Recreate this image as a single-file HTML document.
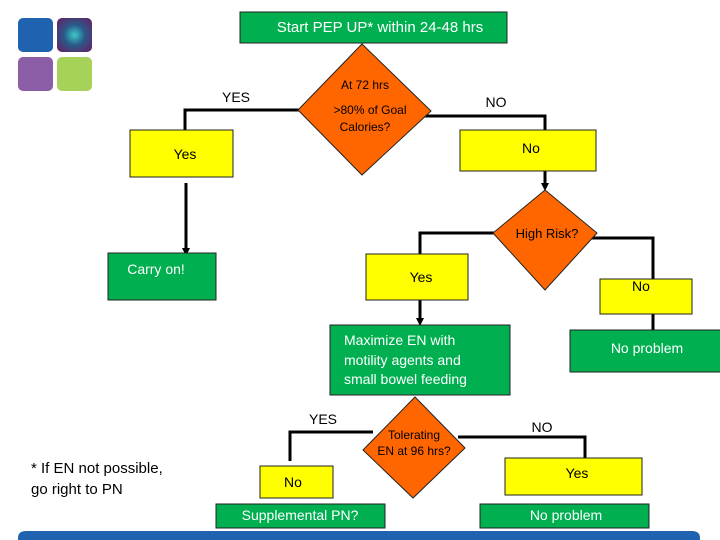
<!DOCTYPE html>
<html><head><meta charset="utf-8"><style>
html,body{margin:0;padding:0;background:#fff;width:720px;height:540px;overflow:hidden}
svg{display:block}
text{font-family:"Liberation Sans",sans-serif}
</style></head><body>
<svg width="720" height="540" viewBox="0 0 720 540" xmlns="http://www.w3.org/2000/svg">
<defs>
<marker id="ar" markerWidth="8" markerHeight="8" refX="4" refY="4" orient="auto" markerUnits="userSpaceOnUse"><path d="M0,0 L8,4 L0,8 z" fill="#000"/></marker>
<radialGradient id="g1" cx="50%" cy="50%" r="60%"><stop offset="0" stop-color="#3cc8c8"/><stop offset="0.5" stop-color="#2a5a8a"/><stop offset="1" stop-color="#5a2a6a"/></radialGradient>
</defs>
<!-- logo -->
<rect x="18" y="18" width="35" height="34" rx="5" fill="#1f63b0"/>
<rect x="57" y="18" width="35" height="34" rx="5" fill="url(#g1)"/>
<rect x="18" y="57" width="35" height="34" rx="5" fill="#8d5ea8"/>
<rect x="57" y="57" width="35" height="34" rx="5" fill="#a6d25a"/>

<g stroke="#000" stroke-width="3" fill="none">
<polyline points="300,110 185,110 185,130"/>
<polyline points="422,116 545,116 545,130"/>
<line x1="186" y1="183" x2="186" y2="252" marker-end="url(#ar)"/>
<line x1="545" y1="171" x2="545" y2="187" marker-end="url(#ar)"/>
<polyline points="496,233 420,233 420,254"/>
<polyline points="590,238 653,238 653,279"/>
<line x1="420" y1="300" x2="420" y2="322" marker-end="url(#ar)"/>
<line x1="653" y1="314" x2="653" y2="330"/>
<polyline points="373,432 290,432 290,461"/>
<polyline points="458,437 585,437 585,458"/>
</g>

<g stroke="#222" stroke-width="1">
<rect x="240" y="12" width="267" height="31" fill="#00b050"/>
<polygon points="362,44 431,111 362,175 298,110" fill="#ff6600"/>
<rect x="130" y="130" width="103" height="47" fill="#ffff00"/>
<rect x="460" y="130" width="136" height="41" fill="#ffff00"/>
<polygon points="545,190 597,233 545,290 493,233" fill="#ff6600"/>
<rect x="108" y="253" width="108" height="47" fill="#00b050"/>
<rect x="366" y="254" width="102" height="46" fill="#ffff00"/>
<rect x="600" y="279" width="92" height="35" fill="#ffff00"/>
<rect x="330" y="325" width="180" height="70" fill="#00b050"/>
<rect x="570" y="330" width="152" height="42" fill="#00b050"/>
<polygon points="415,397 465,448 413,498 363,450" fill="#ff6600"/>
<rect x="260" y="466" width="73" height="32" fill="#ffff00"/>
<rect x="216" y="504" width="169" height="24" fill="#00b050"/>
<rect x="505" y="458" width="137" height="37" fill="#ffff00"/>
<rect x="480" y="504" width="169" height="24" fill="#00b050"/>
</g>

<path d="M18,540 L18,538 Q18,531 26,531 L692,531 Q700,531 700,538 L700,540 z" fill="#1f63b0"/>

<g font-size="14" text-anchor="middle" fill="#000">
<text x="380" y="32" fill="#fff" font-size="15">Start PEP UP* within 24-48 hrs</text>
<text x="365" y="89" font-size="12">At 72 hrs</text>
<text x="370" y="114" font-size="12">&gt;80% of Goal</text>
<text x="365" y="131" font-size="12">Calories?</text>
<text x="236" y="102">YES</text>
<text x="496" y="107">NO</text>
<text x="185" y="159">Yes</text>
<text x="531" y="153">No</text>
<text x="547" y="238" font-size="13">High Risk?</text>
<text x="156" y="274" fill="#fff">Carry on!</text>
<text x="421" y="282">Yes</text>
<text x="641" y="291">No</text>
<text x="647" y="353" fill="#fff">No problem</text>
<text x="323" y="424">YES</text>
<text x="542" y="432">NO</text>
<text x="414" y="439" font-size="12">Tolerating</text>
<text x="414" y="455" font-size="12">EN at 96 hrs?</text>
<text x="293" y="487">No</text>
<text x="577" y="478">Yes</text>
<text x="300" y="520" fill="#fff">Supplemental PN?</text>
<text x="566" y="520" fill="#fff">No problem</text>
</g>
<g font-size="14" fill="#fff">
<text x="344" y="345">Maximize EN with</text>
<text x="344" y="365">motility agents and</text>
<text x="344" y="384">small bowel feeding</text>
</g>
<g font-size="15" fill="#000">
<text x="31" y="473">* If EN not possible,</text>
<text x="31" y="494">go right to PN</text>
</g>
</svg>
</body></html>
